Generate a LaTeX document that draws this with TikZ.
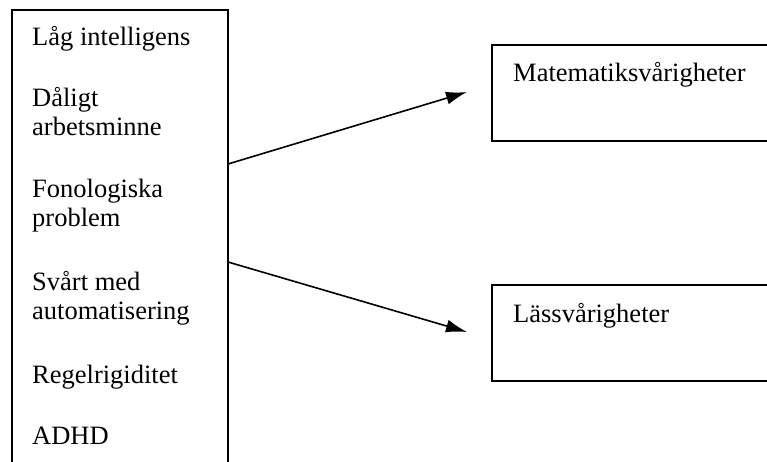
\documentclass[tikz,border=0pt]{standalone}
\usepackage{fontspec}
\setmainfont{Liberation Serif}
\usetikzlibrary{arrows.meta}
\tikzset{
  lbl/.style={anchor=base west, inner sep=0pt, font=\fontsize{26.5}{29}\selectfont},
  frame/.style={draw=black, line width=2pt},
  conn/.style={draw=black, line width=1.6pt, -{Latex[length=21pt,width=13pt]}}
}
\begin{document}
\begin{tikzpicture}[x=1pt,y=-1pt]
\useasboundingbox (0,0) rectangle (767,461);
\clip (0,0) rectangle (767,461);
\fill[white] (0,0) rectangle (767,461);
% boxes
\draw[frame] (12,480) -- (12,10) -- (228,10) -- (228,480);
\draw[frame] (800,45) -- (492,45) -- (492,141) -- (800,141);
\draw[frame] (800,285) -- (492,285) -- (492,381) -- (800,381);
% left texts
\node[lbl] (t1) at (32,45) {Låg intelligens};
\node[lbl] (t2) at (32,106) {Dåligt};
\node[lbl] (t2b) at (32,135) {arbetsminne};
\node[lbl] (t3) at (32,197) {Fonologiska};
\node[lbl] (t3b) at (32,226) {problem};
\node[lbl] (t4) at (32,290) {Svårt med};
\node[lbl] (t4b) at (32,319) {automatisering};
\node[lbl] (t5) at (32,383) {Regelrigiditet};
\node[lbl] (t6) at (32,444) {ADHD};
% right texts
\node[lbl] (m) at (513,81) {Matematiksvårigheter};
\node[lbl] (l) at (513,322) {Lässvårigheter};
% connectors
\coordinate (s1) at (228,164);
\coordinate (e1) at (467,92);
\coordinate (s2) at (228,262);
\coordinate (e2) at (467,332);
\draw[conn] (s1) -- (e1);
\draw[conn] (s2) -- (e2);
\end{tikzpicture}
\end{document}
